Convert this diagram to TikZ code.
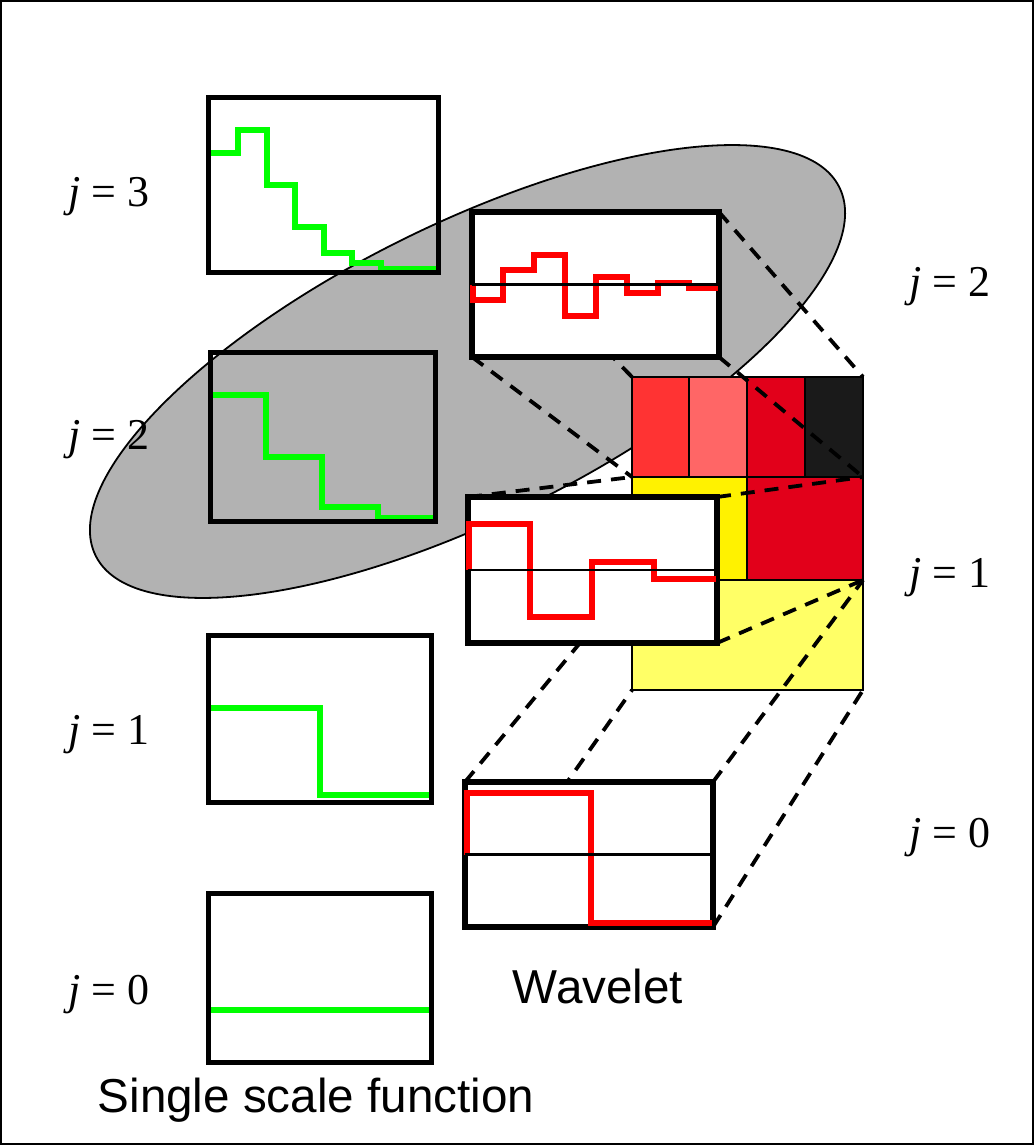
\documentclass[tikz,border=0pt]{standalone}
\usepackage{fontspec}
\setmainfont{Liberation Serif}
\newfontfamily\arialfont{Liberation Sans}
\usetikzlibrary{backgrounds}

\definecolor{ellgray}{HTML}{B2B2B2}
\definecolor{cellA}{HTML}{FF3333}
\definecolor{cellB}{HTML}{FF6666}
\definecolor{cellC}{HTML}{E2001A}
\definecolor{cellD}{HTML}{1A1A1A}
\definecolor{paleyellow}{HTML}{FFFF66}

\begin{document}
\begin{tikzpicture}[x=0.5pt,y=-0.5pt,
  sbox/.style={draw,line width=2.5pt,inner sep=0pt,outer sep=0pt},
  wbox/.style={draw,fill=white,line width=2.6pt,inner sep=0pt,outer sep=0pt},
  cell/.style={draw,line width=1.2pt},
  link/.style={line width=1.9pt,dash pattern=on 7pt off 5pt},
  gstep/.style={draw=green,line width=2.8pt},
  rstep/.style={draw=red,line width=2.8pt},
  axis/.style={line width=1.3pt},
  lab/.style={font=\fontsize{22}{26}\selectfont},
  captxt/.style={font=\arialfont\fontsize{23.8}{28}\selectfont}]
\useasboundingbox (0,0) rectangle (1034,1145);
\draw[line width=0.6pt] (1,1) rectangle (1033,1144);

% single scale functions
\draw[gstep] (210,153) -| (238,130) -| (267,185) -| (295,227)
  -| (324,253) -| (352,263) -| (381,269) -- (436,269);
\node[sbox,minimum width=115pt,minimum height=87pt] (s3) at (323,185) {};
\draw[gstep] (212,395) -| (266,457) -| (322,507) -| (378,518) -- (433,518);
\node[sbox,minimum width=112.5pt,minimum height=84.5pt] (s2) at (322.5,436.5) {};
\draw[gstep] (210,708) -| (320,795) -- (429,795);
\node[sbox,minimum width=111.5pt,minimum height=83.5pt] (s1) at (319.5,718.5) {};
\draw[gstep] (210,1010) -- (429,1010);
\node[sbox,minimum width=111.5pt,minimum height=84.5pt] (s0) at (319.5,977.5) {};

% wavelets
\node[wbox,minimum width=123.5pt,minimum height=72.5pt] (w2) at (595.5,284.5) {};
\draw[rstep] (473,285) -- (473,300) -| (503,270) -| (534,255) -| (565,316) -| (596,277)
  -| (627,293) -| (658,283) -| (689,288) -- (718,288);
\draw[axis] (w2.west) -- (w2.east);
\node[wbox,minimum width=124.5pt,minimum height=73pt] (w1) at (592.5,570) {};
\draw[rstep] (469,570) -- (469,524) -| (530,617) -| (592,562) -| (654,579) -- (716,579);
\draw[axis] (w1.west) -- (w1.east);
\node[wbox,minimum width=124pt,minimum height=72.5pt] (w0) at (589,854.5) {};
\draw[rstep] (467,855) -- (467,793) -| (591,923) -- (712,923);
\draw[axis] (w0.west) -- (w0.east);

% decomposition
\coordinate (r2nw) at (632,377);
\coordinate (r2ne) at (863,377);
\coordinate (r1nw) at (632,477);
\coordinate (r1ne) at (863,477);
\coordinate (r0nw) at (632,580);
\coordinate (r0ne) at (863,580);
\coordinate (r0sw) at (632,690);
\coordinate (r0se) at (863,690);

\begin{pgfonlayer}{background}
\draw[fill=ellgray,line width=0.9pt,rotate around={26.35:(467.5,371.5)}]
  (467.5,371.5) ellipse [x radius=207.5pt,y radius=73.5pt];
\draw[cell,fill=cellA] (r2nw) rectangle (689,477);
\draw[cell,fill=cellB] (689,377) rectangle (747,477);
\draw[cell,fill=cellC] (747,377) rectangle (805,477);
\draw[cell,fill=cellD] (805,377) rectangle (r1ne);
\draw[cell,fill=yellow] (r1nw) rectangle (747,580);
\draw[cell,fill=cellC] (747,477) rectangle (r0ne);
\draw[cell,fill=paleyellow] (r0nw) rectangle (r0se);
\draw[link] (w2.north west) -- (r2nw);
\draw[link] (w2.north east) -- (r2ne);
\draw[link] (w2.south west) -- (r1nw);
\draw[link] (w2.south east) -- (r1ne);
\draw[link] (w1.north west) -- (r1nw);
\draw[link] (w1.north east) -- (r1ne);
\draw[link] (w1.south west) -- (r0nw);
\draw[link] (w1.south east) -- (r0ne);
\draw[link] (w0.north west) -- (r0nw);
\draw[link] (w0.north east) -- (r0ne);
\draw[link] (w0.south west) -- (r0sw);
\draw[link] (w0.south east) -- (r0se);
\end{pgfonlayer}

% labels
\node[lab] (ls3) at (109,197) {\textit{j} = 3};
\node[lab] (ls2) at (109,440) {\textit{j} = 2};
\node[lab] (ls1) at (109,735) {\textit{j} = 1};
\node[lab] (ls0) at (109,995) {\textit{j} = 0};
\node[lab] (lw2) at (950,287) {\textit{j} = 2};
\node[lab] (lw1) at (950,578) {\textit{j} = 1};
\node[lab] (lw0) at (950,838) {\textit{j} = 0};
\node[captxt] (cw) at (598,986) {Wavelet};
\node[captxt] (cs) at (316,1100) {Single scale function};
\end{tikzpicture}
\end{document}
